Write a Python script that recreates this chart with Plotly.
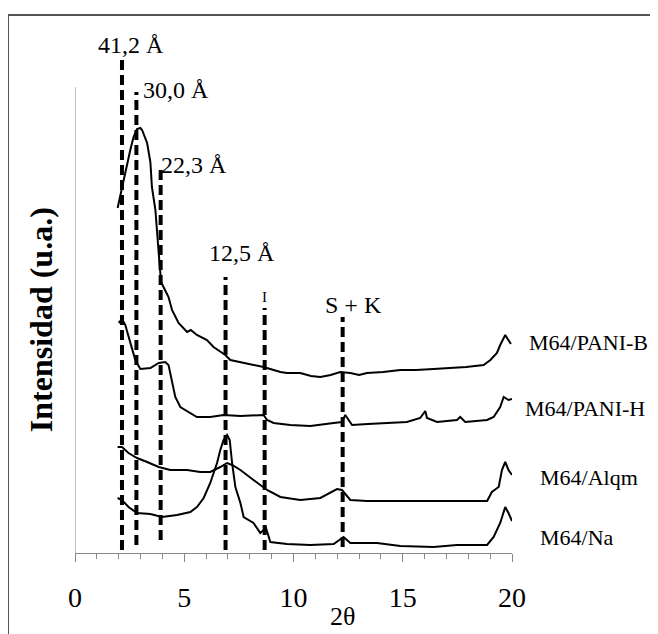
import plotly.graph_objects as go

# ---- data (2θ in degrees, intensity in arbitrary units, curves already offset) ----
pani_b_x = [1.95, 2.22, 2.35, 2.53, 2.68, 2.84, 2.99, 3.07, 3.30, 3.45, 3.52, 3.68, 3.83, 3.94,
            4.05, 4.28, 4.44, 4.67, 4.74, 5.13, 5.30, 5.58, 6.04, 6.34, 6.88, 7.11, 7.57, 7.90,
            8.17, 8.63, 9.09, 9.40, 9.70, 10.31, 10.80, 11.23, 11.70, 12.14, 12.60, 13.00,
            13.36, 14.10, 14.89, 15.60, 16.41, 17.18, 17.90, 18.70, 19.01, 19.31, 19.46,
            19.69, 19.84, 19.95]
pani_b_y = [345, 373, 386, 403, 416, 424, 425, 423, 410, 391, 366, 343, 300, 271,
            266, 256, 243, 233, 230, 221, 223, 218, 213, 206, 198, 193, 191, 189,
            188, 186, 183, 181, 180, 180, 177, 176, 178, 181, 180, 178,
            180, 181, 183, 183, 184, 185, 186, 188, 193, 200, 208,
            218, 213, 209]

pani_h_x = [2.00, 2.15, 2.30, 2.53, 2.76, 2.99, 3.45, 3.83, 4.13, 4.28, 4.44, 4.59, 4.82, 5.28,
            5.58, 6.19, 6.80, 7.57, 8.63, 8.79, 9.09, 9.85, 10.77, 11.84, 12.22, 12.37, 12.52,
            12.68, 13.40, 14.12, 15.19, 15.80, 16.03, 16.11, 16.57, 17.48, 17.63, 17.86, 18.86,
            19.16, 19.46, 19.62, 19.84, 20.00]
pani_h_y = [230, 234, 228, 210, 193, 184, 185, 190, 191, 188, 173, 156, 146, 140,
            136, 136, 138, 137, 138, 133, 130, 128, 127, 130, 131, 138, 133,
            128, 129, 130, 131, 135, 142, 135, 131, 133, 136, 131, 133,
            136, 146, 156, 153, 154]

alqm_x = [1.95, 2.15, 2.45, 2.84, 3.30, 3.83, 4.36, 5.13, 5.73, 6.19, 6.65, 6.96, 7.19, 7.57,
          8.17, 8.79, 9.40, 10.31, 11.23, 11.68, 11.99, 12.22, 12.60, 13.36, 14.89, 17.33,
          18.86, 19.08, 19.39, 19.54, 19.69, 19.84, 20.00]
alqm_y = [106, 106, 100, 95, 91, 86, 83, 83, 81, 81, 86, 90, 88, 83,
          73, 63, 56, 53, 55, 60, 64, 63, 53, 52, 52, 52,
          52, 61, 66, 83, 91, 83, 78]

na_x = [1.95, 2.15, 2.45, 2.84, 3.45, 3.98, 4.67, 5.28, 5.58, 5.89, 6.19, 6.50, 6.65, 6.80,
        6.96, 7.08, 7.19, 7.34, 7.57, 7.72, 8.17, 8.48, 8.74, 8.94, 9.70, 10.77, 11.84, 12.29,
        12.60, 13.82, 14.89, 16.41, 17.48, 18.86, 19.16, 19.46, 19.69, 19.84, 20.00]
na_y = [55, 53, 46, 40, 39, 36, 38, 41, 46, 55, 70, 90, 103, 113,
        118, 113, 90, 66, 50, 36, 30, 20, 25, 11, 9, 8, 9, 16,
        10, 10, 7, 6, 8, 8, 16, 30, 46, 40, 32]

series_names = ["M64/PANI-B", "M64/PANI-H", "M64/Alqm", "M64/Na"]

# reference lines (2θ position, bottom, top) and their labels
ref_x = [2.15, 2.81, 3.92, 6.89, 8.68, 12.25]
ref_bottom = [3, 8, 13, 3, 3, 6]
ref_top = [496, 461, 383, 276, 245, 236]
ref_labels = ["41,2 Å", "30,0 Å", "22,3 Å", "12,5 Å", "I", "S + K"]

x_ticks = [0, 5, 10, 15, 20]

FONT = "Liberation Serif, Times New Roman, serif"

fig = go.Figure()

for xs, ys in [(pani_b_x, pani_b_y), (pani_h_x, pani_h_y), (alqm_x, alqm_y), (na_x, na_y)]:
    fig.add_trace(go.Scatter(x=xs, y=ys, mode="lines",
                             line=dict(color="black", width=2), showlegend=False,
                             hoverinfo="skip"))

for xv, yb, yt in zip(ref_x, ref_bottom, ref_top):
    fig.add_trace(go.Scatter(x=[xv, xv], y=[yb, yt], mode="lines",
                             line=dict(color="black", width=4, dash="10px,5px"),
                             showlegend=False, hoverinfo="skip"))

# labels of reference lines
lab_pos = [(0.96, 508, 24), (3.02, 463, 24), (3.84, 388, 24), (6.04, 300, 24),
           (8.47, 256, 15), (11.35, 248, 24)]
for txt, (lx, ly, fs) in zip(ref_labels, lab_pos):
    fig.add_annotation(x=lx, y=ly, xref="x", yref="y", text=txt, showarrow=False,
                       xanchor="left", yanchor="middle",
                       font=dict(family=FONT, size=fs, color="black"))

# series labels on the right
ser_pos = [(1.034, 211), (1.025, 145), (1.060, 76), (1.060, 16)]
for txt, (px, py) in zip(series_names, ser_pos):
    fig.add_annotation(x=px, y=py, xref="paper", yref="y", text=txt, showarrow=False,
                       xanchor="left", yanchor="middle",
                       font=dict(family=FONT, size=22, color="black"))

# x axis title
fig.add_annotation(x=0.613, y=-0.122, xref="paper", yref="paper", text="2θ",
                   showarrow=False, xanchor="center", yanchor="middle",
                   font=dict(family=FONT, size=26, color="black"))
# y axis title
fig.add_annotation(x=-0.078, y=0.447, xref="paper", yref="paper",
                   text="<b>Intensidad (u.a.)</b>", textangle=-90, showarrow=False,
                   xanchor="center", yanchor="middle",
                   font=dict(family=FONT, size=32, color="black"))

# y axis line (partial height) and outer frame
fig.add_shape(type="line", xref="x", yref="y", x0=0, x1=0, y0=0, y1=466,
              line=dict(color="#888888", width=1))
fig.add_shape(type="rect", xref="paper", yref="paper", x0=-0.1533, x1=1.6,
              y0=-0.3, y1=1.0287, line=dict(color="#555555", width=2))

fig.update_layout(
    width=650, height=626,
    margin=dict(l=67, r=146, t=22, b=81),
    paper_bgcolor="white", plot_bgcolor="white",
    xaxis=dict(range=[0, 20], tickvals=x_ticks, ticks="outside", ticklen=8,
               tickcolor="#888888", showline=True, linecolor="#888888", linewidth=1,
               showgrid=False, zeroline=False,
               minor=dict(dtick=1, ticks="outside", ticklen=5, tickcolor="#888888", showgrid=False),
               tickfont=dict(family=FONT, size=28, color="black"), ticklabelstandoff=11),
    yaxis=dict(range=[0, 523], showticklabels=False, showgrid=False, zeroline=False,
               showline=False, ticks=""),
)

fig.write_html("out.html")
